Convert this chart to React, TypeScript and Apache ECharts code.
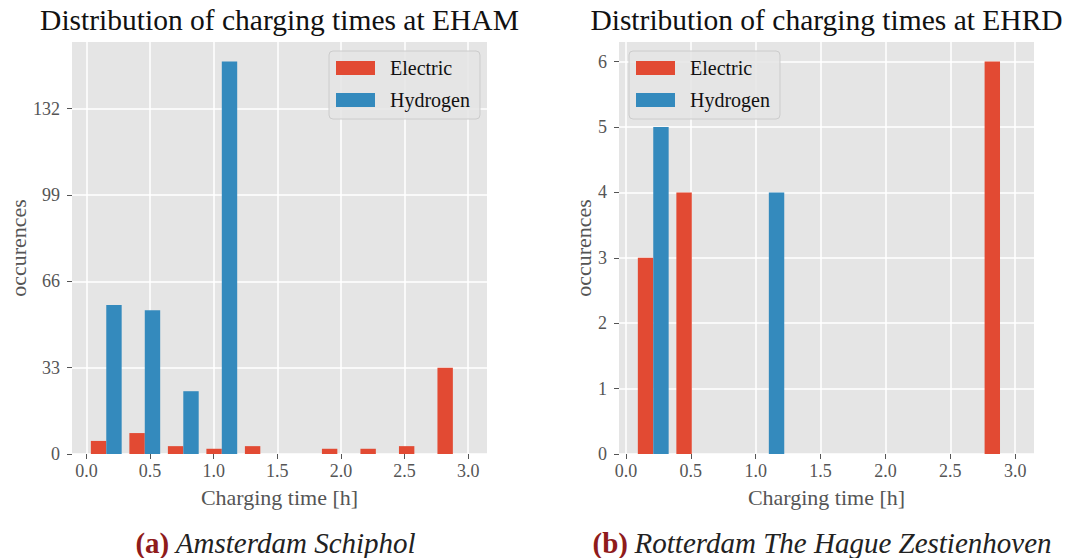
import React, { useEffect, useRef } from "react";
import * as echarts from "echarts";

// ---- data ----
const seriesNames = ["Electric", "Hydrogen"];
const xTicks = [0, 0.5, 1, 1.5, 2, 2.5, 3];

// Amsterdam Schiphol (EHAM): 10 histogram bins
const amsBinStart = 0.004;
const amsBinWidth = 0.3027;
const amsElectric = [5, 8, 3, 2, 3, 0, 2, 2, 3, 33];
const amsHydrogen = [57, 55, 24, 150, 0, 0, 0, 0, 0, 0];
const amsYTicks = [0, 33, 66, 99, 132];
const amsYMax = 157.5;

// Rotterdam The Hague (EHRD): 10 histogram bins
const rtmBinStart = 0.0615;
const rtmBinWidth = 0.297;
const rtmElectric = [3, 4, 0, 0, 0, 0, 0, 0, 0, 6];
const rtmHydrogen = [5, 0, 0, 4, 0, 0, 0, 0, 0, 0];
const rtmYTicks = [0, 1, 2, 3, 4, 5, 6];
const rtmYMax = 6.3;

const titles = [
  "Distribution of charging times at EHAM",
  "Distribution of charging times at EHRD",
];
const captionTags = ["(a)", "(b)"];
const captionTexts = ["Amsterdam Schiphol", "Rotterdam The Hague Zestienhoven"];

// ---- style ----
const FONT = "'Liberation Serif', 'DejaVu Serif', serif";
const RED = "#E24A33";
const BLUE = "#348ABD";
const GRAY = "#555555";

function histData(binStart: number, binWidth: number, counts: number[], s: number) {
  // matplotlib-like side-by-side bars: 80% of bin width shared by two datasets
  const out: number[][] = [];
  counts.forEach((c, i) => {
    if (c <= 0) return;
    const left = binStart + i * binWidth + 0.1 * binWidth + s * 0.4 * binWidth;
    out.push([left, left + 0.4 * binWidth, c]);
  });
  return out;
}

function renderBar(color: string) {
  return (params: any, api: any) => {
    const p0 = api.coord([api.value(0), api.value(2)]);
    const p1 = api.coord([api.value(1), 0]);
    return {
      type: "rect",
      shape: { x: p0[0], y: p0[1], width: p1[0] - p0[0], height: p1[1] - p0[1] },
      style: { fill: color },
    };
  };
}

const grids = [
  { left: 72, top: 42, width: 415, height: 412 },
  { left: 619, top: 42, width: 415, height: 412 },
];

function xAxisOpt(gridIndex: number, min: number, max: number) {
  return {
    type: "value",
    gridIndex,
    min,
    max,
    axisLine: { show: true, onZero: false, lineStyle: { color: "rgba(0,0,0,0)" } },
    axisTick: {
      show: true,
      customValues: xTicks,
      length: 5,
      lineStyle: { color: GRAY, width: 1 },
    },
    axisLabel: {
      customValues: xTicks,
      formatter: (v: number) => v.toFixed(1),
      color: GRAY,
      fontSize: 18,
      fontFamily: FONT,
      margin: 8,
    },
    splitLine: { show: true, lineStyle: { color: "#ffffff", width: 1.5 } },
    name: "Charging time [h]",
    nameLocation: "middle",
    nameGap: 32,
    nameTextStyle: { color: GRAY, fontSize: 22, fontFamily: FONT },
  };
}

function yAxisOpt(gridIndex: number, max: number, ticks: number[], nameGap: number) {
  return {
    type: "value",
    gridIndex,
    min: 0,
    max,
    axisLine: { show: true, onZero: false, lineStyle: { color: "rgba(0,0,0,0)" } },
    axisTick: {
      show: true,
      customValues: ticks,
      length: 5,
      lineStyle: { color: GRAY, width: 1 },
    },
    axisLabel: {
      customValues: ticks,
      color: GRAY,
      fontSize: 18,
      fontFamily: FONT,
      margin: 12,
    },
    splitLine: { show: true, lineStyle: { color: "#ffffff", width: 1.5 } },
    name: "occurences",
    nameLocation: "middle",
    nameGap,
    nameTextStyle: { color: GRAY, fontSize: 22, fontFamily: FONT },
  };
}

function legendOpt(left: number) {
  return {
    left,
    top: 51,
    orient: "vertical",
    data: seriesNames.map((n) => ({ name: n, icon: "rect" })),
    itemWidth: 39,
    itemHeight: 14,
    itemGap: 12,
    padding: [7, 10, 9, 7],
    backgroundColor: "rgba(229,229,229,0.85)",
    borderColor: "#cccccc",
    borderWidth: 1,
    borderRadius: 4,
    selectedMode: false,
    textStyle: {
      fontSize: 20,
      fontFamily: FONT,
      color: "#111111",
      lineHeight: 14,
      padding: [0, 0, 0, 10],
    },
  };
}

function captionGraphic(cx: number, idx: number) {
  return {
    type: "text",
    x: cx,
    y: 543,
    style: {
      text: `{a|${captionTags[idx]}}  {b|${captionTexts[idx]}}`,
      align: "center",
      verticalAlign: "middle",
      rich: {
        a: { fontWeight: "bold", fill: "#8f1b1b", fontSize: 29, fontFamily: FONT },
        b: { fontStyle: "italic", fill: "#222222", fontSize: 29, fontFamily: FONT },
      },
    },
  };
}

export default function App() {
  const ref = useRef<HTMLDivElement>(null);
  useEffect(() => {
    if (!ref.current) return;
    const chart = echarts.init(ref.current, undefined, { renderer: "svg" });
    const option: any = {
      animation: false,
      backgroundColor: "#ffffff",
      grid: grids.map((g) => ({
        ...g,
        show: true,
        backgroundColor: "#E5E5E5",
        borderWidth: 0,
      })),
      xAxis: [xAxisOpt(0, -0.114, 3.148), xAxisOpt(1, -0.054, 3.145)],
      yAxis: [yAxisOpt(0, amsYMax, amsYTicks, 43), yAxisOpt(1, rtmYMax, rtmYTicks, 25)],
      legend: [legendOpt(329), legendOpt(629)],
      series: [
        {
          name: seriesNames[0],
          type: "custom",
          xAxisIndex: 0,
          yAxisIndex: 0,
          itemStyle: { color: RED },
          renderItem: renderBar(RED),
          encode: { x: [0, 1], y: 2 },
          data: histData(amsBinStart, amsBinWidth, amsElectric, 0),
        },
        {
          name: seriesNames[1],
          type: "custom",
          xAxisIndex: 0,
          yAxisIndex: 0,
          itemStyle: { color: BLUE },
          renderItem: renderBar(BLUE),
          encode: { x: [0, 1], y: 2 },
          data: histData(amsBinStart, amsBinWidth, amsHydrogen, 1),
        },
        {
          name: seriesNames[0],
          type: "custom",
          xAxisIndex: 1,
          yAxisIndex: 1,
          itemStyle: { color: RED },
          renderItem: renderBar(RED),
          encode: { x: [0, 1], y: 2 },
          data: histData(rtmBinStart, rtmBinWidth, rtmElectric, 0),
        },
        {
          name: seriesNames[1],
          type: "custom",
          xAxisIndex: 1,
          yAxisIndex: 1,
          itemStyle: { color: BLUE },
          renderItem: renderBar(BLUE),
          encode: { x: [0, 1], y: 2 },
          data: histData(rtmBinStart, rtmBinWidth, rtmHydrogen, 1),
        },
      ],
      graphic: [
        {
          type: "text",
          x: 279.5,
          y: 20,
          style: {
            text: titles[0],
            align: "center",
            verticalAlign: "middle",
            fontSize: 29.5,
            fontFamily: FONT,
            fill: "#111111",
          },
        },
        {
          type: "text",
          x: 826.5,
          y: 20,
          style: {
            text: titles[1],
            align: "center",
            verticalAlign: "middle",
            fontSize: 29.5,
            fontFamily: FONT,
            fill: "#111111",
          },
        },
        captionGraphic(275.5, 0),
        captionGraphic(822, 1),
      ],
    };
    chart.setOption(option);
    return () => chart.dispose();
  }, []);
  return (
    <div
      ref={ref}
      style={{ position: "absolute", left: 0, top: 0, width: 1072, height: 558 }}
    />
  );
}
